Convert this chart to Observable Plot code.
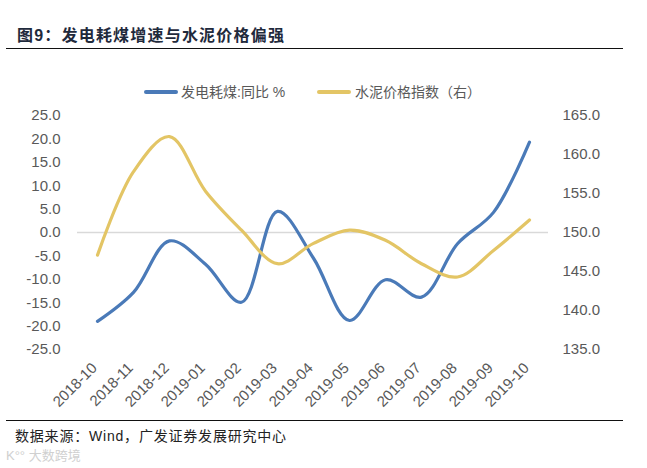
<!DOCTYPE html>
<html>
<head>
<meta charset="utf-8">
<script src="https://cdn.jsdelivr.net/npm/d3@7"></script>
<script src="https://cdn.jsdelivr.net/npm/@observablehq/plot@0.6"></script>
<style>
  html, body { margin: 0; padding: 0; background: #fff; }
  body { width: 647px; height: 468px; position: relative; overflow: hidden;
         font-family: "Liberation Sans", Arial, "Noto Sans CJK SC", sans-serif; }
  #title { position: absolute; left: 17px; top: 27px; font-size: 16px; line-height: 18px; letter-spacing: 1.2px;
           font-weight: bold; color: #1f2a3c; white-space: nowrap; }
  .rule { position: absolute; left: 6px; width: 617px; height: 0; border-top: 1.3px solid #111; }
  .sw { position: absolute; height: 4px; border-radius: 2px; top: 90px; }
  .lt { position: absolute; top: 84px; font-size: 14px; line-height: 16px; color: #595959; white-space: nowrap; }
  #chart { position: absolute; left: 0; top: 100px; }
  #source { position: absolute; left: 15px; top: 428px; font-size: 14px; line-height: 17px; letter-spacing: 0.8px; color: #222; white-space: nowrap; }
  #wm { position: absolute; left: 6px; top: 449px; font-size: 13px; line-height: 14px; color: #d0d0d0; white-space: nowrap; }
</style>
</head>
<body>
<div id="title">图9：发电耗煤增速与水泥价格偏强</div>
<div class="rule" style="top:48px"></div>
<div class="sw" style="left:144px;width:34px;background:#4a7ab8"></div>
<div class="lt" id="l1" style="left:181px"></div>
<div class="sw" style="left:317px;width:34px;background:#e3c565"></div>
<div class="lt" id="l2" style="left:355px"></div>
<div id="chart"></div>
<div class="rule" style="top:420px"></div>
<div id="source">数据来源：Wind，广发证券发展研究中心</div>
<div id="wm">K°° 大数跨境</div>
<script>
// ---- data ----
const months = ["2018-10","2018-11","2018-12","2019-01","2019-02","2019-03","2019-04",
                "2019-05","2019-06","2019-07","2019-08","2019-09","2019-10"];
const coalYoY = [-19.0, -12.8, -1.8, -6.8, -14.9, 4.5, -5.5, -18.8, -10.1, -13.8, -2.4, 4.3, 19.3];
const cementIndex = [147.1, 157.8, 162.3, 155.3, 150.3, 146.0, 148.6, 150.3, 149.0, 146.0, 144.3, 147.7, 151.6];
const leftTicks = [-25, -20, -15, -10, -5, 0, 5, 10, 15, 20, 25];
const rightTicks = [135, 140, 145, 150, 155, 160, 165];
const seriesNames = ["发电耗煤:同比 %", "水泥价格指数（右）"];
const colors = ["#4a7ab8", "#e3c565"];

document.getElementById("l1").textContent = seriesNames[0];
document.getElementById("l2").textContent = seriesNames[1];

// secondary axis mapping: right axis domain -> left axis domain
const y2toY = d3.scaleLinear()
  .domain([rightTicks[0], rightTicks[rightTicks.length - 1]])
  .range([leftTicks[0], leftTicks[leftTicks.length - 1]]);

const rows = months.map((m, i) => ({ m, coal: coalYoY[i], cement: cementIndex[i] }));

const chart = Plot.plot({
  width: 647,
  height: 320,
  marginTop: 15,
  marginBottom: 71,
  marginLeft: 77,
  marginRight: 99,
  style: { fontFamily: "'Liberation Sans', Arial, sans-serif", fontSize: "15px", color: "#595959", background: "transparent", overflow: "visible" },
  x: { type: "band", domain: months, padding: 0, axis: null },
  y: { domain: [leftTicks[0], leftTicks[leftTicks.length - 1]], axis: null },
  marks: [
    Plot.ruleY([0], { stroke: "#d9d9d9", strokeWidth: 1.5 }),
    Plot.axisY(leftTicks, { anchor: "left", tickSize: 0, tickPadding: 17, label: null,
      tickFormat: d => d.toFixed(1), fill: "#595959" }),
    Plot.axisY(rightTicks.map(v => y2toY(v)), { anchor: "right", tickSize: 0, tickPadding: 14, label: null,
      tickFormat: d => y2toY.invert(d).toFixed(1), fill: "#595959" }),
    Plot.axisX(months, { anchor: "bottom", tickSize: 0, tickPadding: 16, tickRotate: -45, dx: -3, label: null, fill: "#595959" }),
    Plot.lineY(rows, { x: "m", y: "coal", stroke: colors[0], strokeWidth: 3.2, curve: "catmull-rom" }),
    Plot.lineY(rows, { x: "m", y: d => y2toY(d.cement), stroke: colors[1], strokeWidth: 3.2, curve: "catmull-rom" })
  ]
});
document.getElementById("chart").appendChild(chart);
</script>
</body>
</html>
